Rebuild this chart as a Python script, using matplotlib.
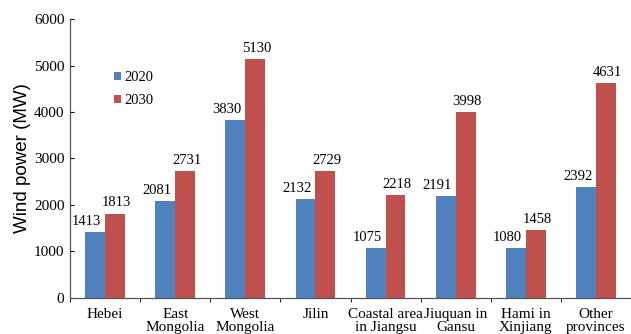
import numpy as np
import matplotlib
matplotlib.use("Agg")
import matplotlib.pyplot as plt

categories = ["Hebei", "East\nMongolia", "West\nMongolia", "Jilin",
              "Coastal area\nin Jiangsu", "Jiuquan in\nGansu", "Hami in\nXinjiang",
              "Other\nprovinces"]
values_2020 = [1413, 2081, 3830, 2132, 1075, 2191, 1080, 2392]
values_2030 = [1813, 2731, 5130, 2729, 2218, 3998, 1458, 4631]

blue = "#4F81BD"
red = "#C0504D"
serif = "Liberation Serif"
fs = 10.5

fig = plt.figure(figsize=(6.31, 3.34), dpi=100)
ax = fig.add_axes([0.111, 0.108, 0.889, 0.835])

x = np.arange(len(categories))
w = 0.284
b1 = ax.bar(x - w / 2, values_2020, w, color=blue, label="2020")
b2 = ax.bar(x + w / 2, values_2030, w, color=red, label="2030")

# value labels above the bars (2020 ones sit a bit to the left)
for rect, v in zip(b1, values_2020):
    ax.annotate(str(v), (rect.get_x() + rect.get_width() / 2, v),
                xytext=(-6, 3), textcoords="offset points", ha="center", va="bottom",
                family=serif, fontsize=fs)
for rect, v in zip(b2, values_2030):
    ax.annotate(str(v), (rect.get_x() + rect.get_width() / 2, v),
                xytext=(1, 3), textcoords="offset points", ha="center", va="bottom",
                family=serif, fontsize=fs)

ax.set_xlim(-0.5, len(categories) - 0.5)
ax.set_ylim(0, 6000)
ax.set_yticks(range(0, 6001, 1000))
ax.set_yticklabels([str(t) for t in range(0, 6001, 1000)], family=serif, fontsize=11)
ax.tick_params(axis="y", direction="in", length=3, pad=4)

ax.set_xticks(x)
ax.set_xticklabels(categories, family=serif, fontsize=11, linespacing=1.0)
ax.tick_params(axis="x", which="major", length=0, pad=7)
ax.set_xticks(np.arange(-0.5, len(categories), 1.0), minor=True)
ax.tick_params(axis="x", which="minor", direction="out", length=3)

for s in ["top", "right"]:
    ax.spines[s].set_visible(False)
for s in ["left", "bottom"]:
    ax.spines[s].set_color("#555555")
    ax.spines[s].set_linewidth(0.9)

ax.set_ylabel("Wind power (MW)", family="Liberation Sans", fontsize=13.5, labelpad=2)

ax.legend(loc="upper left", bbox_to_anchor=(0.055, 0.86), frameon=False,
          prop={"family": serif, "size": fs}, handlelength=0.5, handleheight=0.5,
          handletextpad=0.2, labelspacing=0.7)

fig.savefig("out.png", dpi=100)
